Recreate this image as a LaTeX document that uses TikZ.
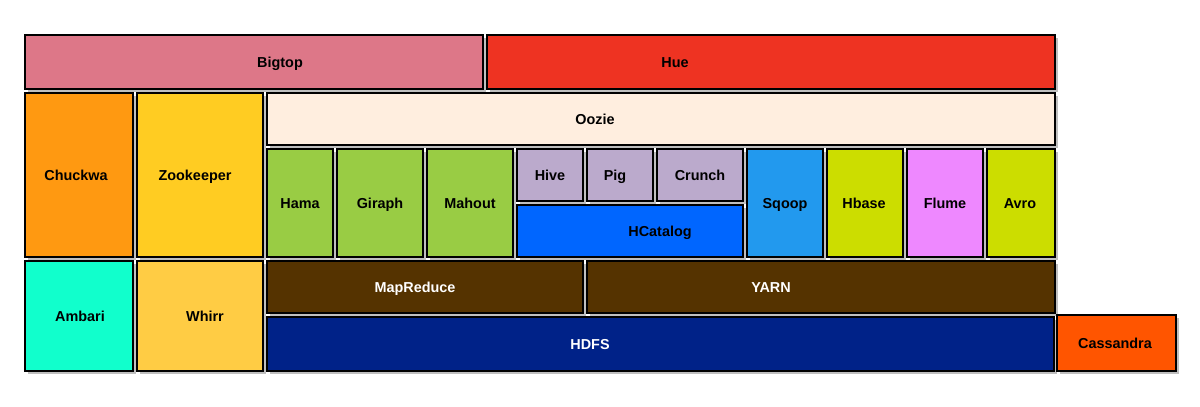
\documentclass[tikz,border=0pt]{standalone}
\usepackage{fontspec}
\setmainfont{Liberation Sans}
\usetikzlibrary{fit,shadows}
\definecolor{bigtopc}{HTML}{DD7788}
\definecolor{huec}{HTML}{EE3322}
\definecolor{chuckwac}{HTML}{FF9911}
\definecolor{zookeeperc}{HTML}{FFCC22}
\definecolor{ooziec}{HTML}{FFEEDF}
\definecolor{greenc}{HTML}{99CC44}
\definecolor{lilac}{HTML}{BBAACC}
\definecolor{hcatc}{HTML}{0066FF}
\definecolor{sqoopc}{HTML}{2299EE}
\definecolor{limec}{HTML}{CCDD00}
\definecolor{flumec}{HTML}{EE88FF}
\definecolor{ambaric}{HTML}{11FFCC}
\definecolor{whirrc}{HTML}{FFCC44}
\definecolor{brownc}{HTML}{553300}
\definecolor{hdfsc}{HTML}{002288}
\definecolor{cassandrac}{HTML}{FF5500}

\tikzset{box/.style={draw=black, line width=0.8pt, inner sep=0pt,
    drop shadow={shadow xshift=1.6pt, shadow yshift=-1.6pt, opacity=0.25, fill=black}},
  lbl/.style={font=\fontsize{8.2}{10}\selectfont\bfseries, inner sep=0pt,
    text height=5.9pt, text depth=0pt}}

\begin{document}
\begin{tikzpicture}[x=0.02cm, y=-0.02cm]
\useasboundingbox (0,0) rectangle (1200,406);
  % name/left/top/right/bottom/fill/label x/text colour/label
  \foreach \n/\xa/\ya/\xb/\yb/\c/\lx/\tc/\t in {
      bigtop/25/35/483/89/bigtopc/280/black/Bigtop,
      hue/487/35/1055/89/huec/675/black/Hue,
      chuckwa/25/93/133/257/chuckwac/76/black/Chuckwa,
      zookeeper/137/93/263/257/zookeeperc/195/black/Zookeeper,
      oozie/267/93/1055/145/ooziec/595/black/Oozie,
      hama/267/149/333/257/greenc/300/black/Hama,
      giraph/337/149/423/257/greenc/380/black/Giraph,
      mahout/427/149/513/257/greenc/470/black/Mahout,
      hive/517/149/583/201/lilac/550/black/Hive,
      pig/587/149/653/201/lilac/615/black/Pig,
      crunch/657/149/743/201/lilac/700/black/Crunch,
      hcatalog/517/205/743/257/hcatc/660/black/HCatalog,
      sqoop/747/149/823/257/sqoopc/785/black/Sqoop,
      hbase/827/149/903/257/limec/864/black/Hbase,
      flume/907/149/983/257/flumec/945/black/Flume,
      avro/987/149/1055/257/limec/1020/black/Avro,
      ambari/25/261/133/371/ambaric/80/black/Ambari,
      whirr/137/261/263/371/whirrc/205/black/Whirr,
      mapreduce/267/261/583/313/brownc/415/white/MapReduce,
      yarn/587/261/1055/313/brownc/771/white/YARN,
      hdfs/267/317/1054/371/hdfsc/590/white/HDFS,
      cassandra/1057/315/1176/371/cassandrac/1115/black/Cassandra}
  {
    \node[box, fill=\c, fit={(\xa,\ya) (\xb,\yb)}] (\n) {};
    \node[lbl, text=\tc] (\n-lbl) at (\lx,{(\ya+\yb)/2}) {\t};
  }
\end{tikzpicture}
\end{document}
